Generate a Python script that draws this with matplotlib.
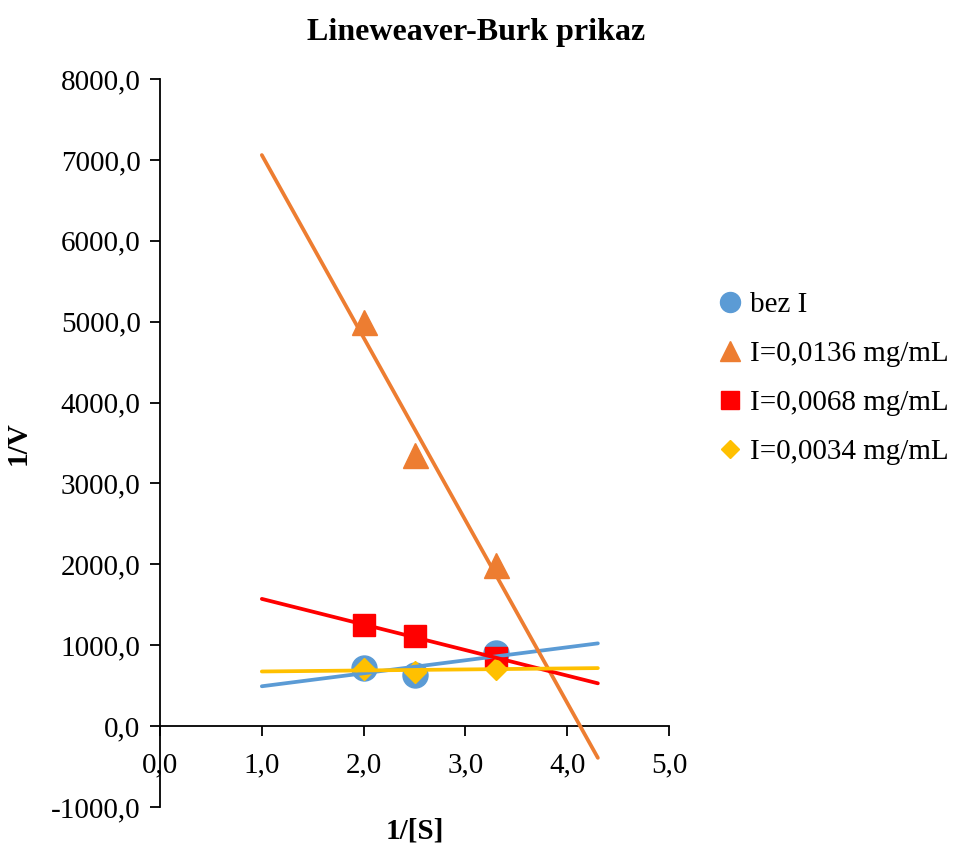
import numpy as np
import matplotlib
matplotlib.use("Agg")
import matplotlib.pyplot as plt
from matplotlib.ticker import FuncFormatter, MultipleLocator

plt.rcParams['font.family'] = ['Liberation Serif', 'DejaVu Serif']

x_vals = [2.0, 2.5, 3.3]
series_names = ["bez I", "I=0,0136 mg/mL", "I=0,0068 mg/mL", "I=0,0034 mg/mL"]
y_bez = [717, 630, 902]
y_0136 = [5000, 3350, 1990]
y_0068 = [1248, 1112, 840]
y_0034 = [700, 675, 712]
colors = ["#5B9BD5", "#ED7D31", "#FF0000", "#FFC000"]
markers = ["o", "^", "s", "D"]
msizes = [18, 18, 15.5, 11.5]
trend_range = [1.0, 4.3]

fig = plt.figure(figsize=(9.57, 8.43), dpi=100)
ax = fig.add_axes([0.1672, 0.0427, 0.532, 0.8636])

all_y = [y_bez, y_0136, y_0068, y_0034]
handles = []
for ys, c, m, ms, name in zip(all_y, colors, markers, msizes, series_names):
    h, = ax.plot(x_vals, ys, linestyle='none', marker=m, color=c, markersize=ms,
                 label=name, zorder=3)
    handles.append(h)
for ys, c in zip(all_y, colors):
    k, b = np.polyfit(x_vals, ys, 1)
    xt = np.array(trend_range)
    ax.plot(xt, k * xt + b, color=c, lw=2.7, zorder=4, solid_capstyle='round')

ax.set_xlim(0, 5)
ax.set_ylim(-1000, 8000)
ax.xaxis.set_major_locator(MultipleLocator(1))
ax.yaxis.set_major_locator(MultipleLocator(1000))
fmt = FuncFormatter(lambda v, p: f"{v:.1f}".replace('.', ','))
ax.xaxis.set_major_formatter(fmt)
ax.yaxis.set_major_formatter(fmt)

ax.spines['top'].set_visible(False)
ax.spines['right'].set_visible(False)
ax.spines['bottom'].set_position(('data', 0))
for s in ['left', 'bottom']:
    ax.spines[s].set_linewidth(1.3)
ax.tick_params(axis='both', direction='out', length=7, width=1.3, labelsize=21)
ax.tick_params(axis='x', pad=12)
ax.tick_params(axis='y', pad=7)

ax.set_ylabel("1/V", fontsize=21, fontweight='bold', labelpad=14)
ax.set_xlabel("1/[S]", fontsize=21, fontweight='bold')
ax.xaxis.set_label_coords(0.5, -0.015)
fig.text(0.497, 0.962, "Lineweaver-Burk prikaz", fontsize=23, fontweight='bold',
         ha='center', va='center')

fig.legend(handles=handles, loc='upper left', bbox_to_anchor=(0.735, 0.668),
           frameon=False, fontsize=21, handletextpad=0.2, handlelength=1.0,
           labelspacing=0.78, markerscale=0.8, borderaxespad=0)

fig.savefig("out.png", dpi=100)
